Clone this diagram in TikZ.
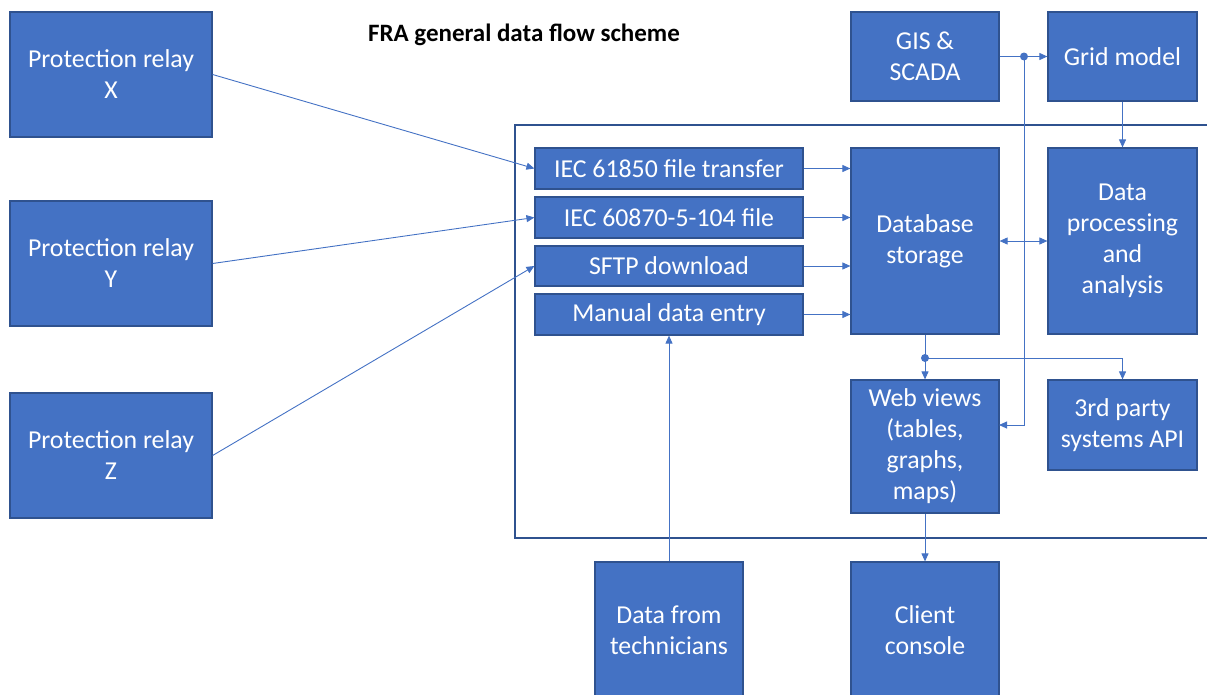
\documentclass[tikz,border=0pt]{standalone}
\usepackage{fontspec}
\setmainfont{Carlito}
\usetikzlibrary{arrows.meta}
\definecolor{boxfill}{HTML}{4472C4}
\definecolor{boxborder}{HTML}{2F528F}
\definecolor{linecol}{HTML}{4472C4}
\begin{document}
\begin{tikzpicture}[x=1pt,y=-1pt,
  box/.style={draw=boxborder, line width=1.2pt, fill=boxfill, text=white, inner sep=0pt, align=center,
    font=\fontsize{25.8}{31}\selectfont},
  conn/.style={draw=linecol, line width=0.9pt, -{Triangle[length=8pt,width=7pt]}},
  dconn/.style={draw=linecol, line width=0.9pt, {Triangle[length=8pt,width=7pt]}-{Triangle[length=8pt,width=7pt]}},
  plain/.style={draw=linecol, line width=0.9pt},
  junction/.style={circle, fill=linecol, inner sep=0pt, minimum size=8pt},
  frame/.style={draw=boxborder, line width=1.3pt}
]
\useasboundingbox (0,0) rectangle (1207,694);
% frame
\draw[frame] (1215,125) -- (515,125) -- (515,538) -- (1215,538);
% title
\node[font=\fontsize{25}{30}\selectfont\bfseries] (title) at (524,35) {FRA general data flow scheme};
% relays
\node[box, minimum width=202pt, minimum height=125pt] (X) at (111,74.5) {Protection relay\\X};
\node[box, minimum width=202pt, minimum height=125pt] (Y) at (111,263.5) {Protection relay\\Y};
\node[box, minimum width=202pt, minimum height=125pt] (Z) at (111,455.5) {Protection relay\\Z};
% top right
\node[box, minimum width=148pt, minimum height=89pt] (GIS) at (925,56.5) {GIS \&\\SCADA};
\node[box, minimum width=149pt, minimum height=89pt] (Grid) at (1122.5,56.5) {Grid model};
% inputs
\node[box, minimum width=268pt, minimum height=41pt] (IEC1) at (669,168.5) {IEC 61850 file transfer};
\node[box, minimum width=268pt, minimum height=41pt] (IEC2) at (669,217.5) {IEC 60870-5-104 file};
\node[box, minimum width=268pt, minimum height=40pt] (SFTP) at (669,266) {SFTP download};
\node[box, minimum width=268pt, minimum height=41pt] (Man) at (669,314.5) {Manual data entry};
% central
\node[box, minimum width=148pt, minimum height=186pt] (DB) at (925,241) {Database\\storage};
\node[box, minimum width=149pt, minimum height=186pt] (DP) at (1122.5,241) {Data\\processing\\and\\analysis};
\node[box, minimum width=148pt, minimum height=133pt] (Web) at (925,446.5) {Web views\\(tables,\\graphs,\\maps)};
\node[box, minimum width=149pt, minimum height=90pt] (API) at (1122.5,425) {3rd party\\systems API};
% bottom
\node[box, minimum width=148pt, minimum height=136pt] (Tech) at (669,630) {Data from\\technicians};
\node[box, minimum width=148pt, minimum height=136pt] (Client) at (925,630) {Client\\console};
% junctions
\node[junction] (j1) at (1024,56.5) {};
\node[junction] (j2) at (925,358) {};
\coordinate (webin) at (999,425);
% connectors
\draw[conn] (X.east) -- (IEC1.west);
\draw[conn] (Y.east) -- (IEC2.west);
\draw[conn] (Z.east) -- (SFTP.west);
\draw[conn] (IEC1.east) -- (IEC1.east -| DB.west);
\draw[conn] (IEC2.east) -- (IEC2.east -| DB.west);
\draw[conn] (SFTP.east) -- (SFTP.east -| DB.west);
\draw[conn] (Man.east) -- (Man.east -| DB.west);
\draw[plain] (GIS.east) -- (j1.center);
\draw[conn] (j1.center) -- (Grid.west);
\draw[conn] (j1.center) |- (webin);
\draw[conn] (Grid.south) -- (DP.north);
\draw[dconn] (DB.east) -- (DP.west);
\draw[plain] (DB.south) -- (j2.center);
\draw[conn] (j2.center) -- (Web.north);
\draw[conn] (j2.center) -| (API.north);
\draw[conn] (Web.south) -- (Client.north);
\draw[conn] (Tech.north) -- (Man.south);
\end{tikzpicture}
\end{document}
